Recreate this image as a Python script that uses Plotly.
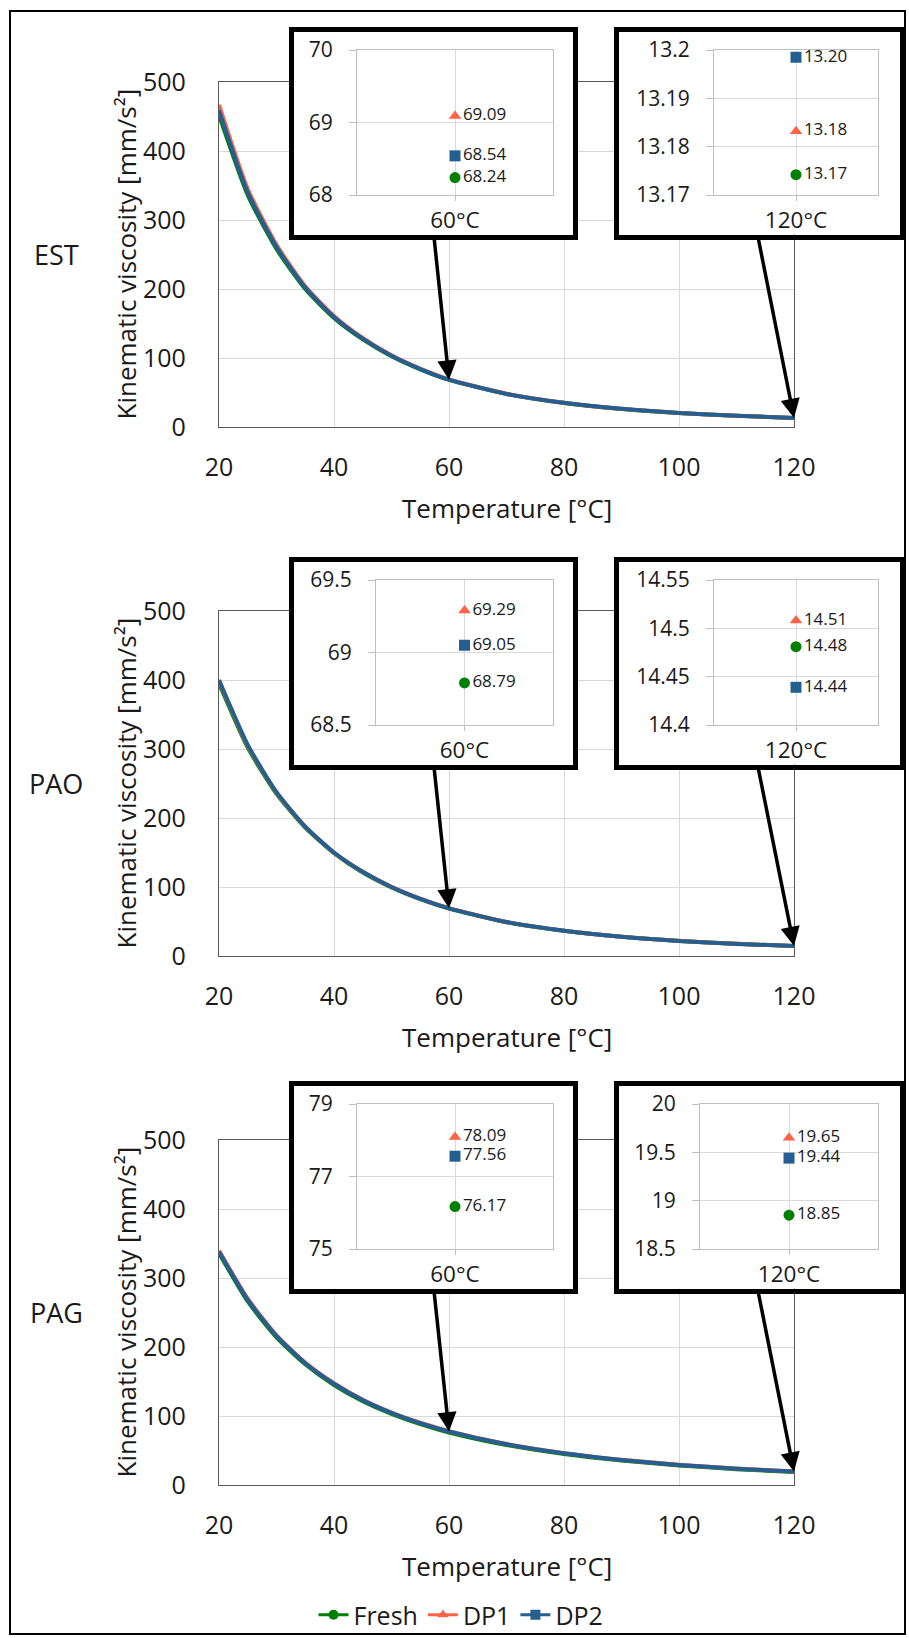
import plotly.graph_objects as go

# ---------------- data ----------------
temps = [20, 25, 30, 35, 40, 45, 50, 55, 60, 70, 80, 90, 100, 110, 120]
series_names = ["Fresh", "DP1", "DP2"]

est_fresh = [452, 336, 258, 200, 158, 127, 102.5, 83.5, 68.24, 47.8, 34.8, 26.2, 20.3, 16.2, 13.17]
est_dp1 = [467, 345, 264, 204, 161, 129, 104, 84.8, 69.09, 48.3, 35.1, 26.4, 20.4, 16.3, 13.18]
est_dp2 = [459, 340, 261, 202, 159.5, 128, 103.2, 84, 68.54, 48.0, 35.0, 26.3, 20.4, 16.3, 13.20]

pao_fresh = [395, 302, 235, 186, 149, 121, 99.5, 82.5, 68.79, 49.0, 36.5, 27.9, 21.9, 17.6, 14.48]
pao_dp1 = [399, 305, 237, 187.5, 150, 122, 100.2, 83.0, 69.29, 49.3, 36.7, 28.0, 22.0, 17.6, 14.51]
pao_dp2 = [400, 306, 237.5, 187.5, 150, 122, 100, 82.8, 69.05, 49.2, 36.6, 27.9, 21.9, 17.5, 14.44]

pag_fresh = [336, 266, 214, 175, 145, 121.5, 103, 88.3, 76.17, 58.0, 45.0, 35.5, 28.4, 23.0, 18.85]
pag_dp1 = [340, 270, 217, 177.5, 147.5, 123.5, 105, 90.2, 78.09, 59.4, 46.2, 36.6, 29.4, 23.9, 19.65]
pag_dp2 = [338, 268.5, 216, 176.5, 146.8, 123, 104.5, 89.7, 77.56, 59.0, 45.9, 36.3, 29.1, 23.7, 19.44]

# inset values, order: Fresh, DP1, DP2
est_60 = [68.24, 69.09, 68.54]
est_120 = [13.1742, 13.1832, 13.1985]
pao_60 = [68.79, 69.29, 69.05]
pao_120 = [14.481, 14.508, 14.439]
pag_60 = [76.17, 78.09, 77.56]
pag_120 = [18.85, 19.65, 19.44]

oils = ["EST", "PAO", "PAG"]
inset_cats = ["60°C", "120°C"]
x_ticks = [20, 40, 60, 80, 100, 120]
y_ticks = [0, 100, 200, 300, 400, 500]
inset_ranges = {
    ("EST", 0): (68, 70, 1), ("EST", 1): (13.17, 13.2, 0.01),
    ("PAO", 0): (68.5, 69.5, 0.5), ("PAO", 1): (14.4, 14.55, 0.05),
    ("PAG", 0): (75, 79, 2), ("PAG", 1): (18.5, 20, 0.5),
}

# ---------------- style ----------------
W, H = 909, 1638
FONT = "Open Sans"
TXT = "#1a1a1a"
colors = ["#008000", "#ff6347", "#255e91"]
symbols = ["circle", "triangle-up", "square"]
GRID = "#d9d9d9"


def fx(px):
    return px / W


def fy(py):
    return 1 - py / H


curves = {"EST": [est_fresh, est_dp1, est_dp2],
          "PAO": [pao_fresh, pao_dp1, pao_dp2],
          "PAG": [pag_fresh, pag_dp1, pag_dp2]}
insets = {"EST": [est_60, est_120], "PAO": [pao_60, pao_120], "PAG": [pag_60, pag_120]}

main_off = [0, 529, 1058]
inset_off = [0, 530, 1054]
plot_left = {"EST": (357, 714), "PAO": (376, 714), "PAG": (357, 700)}
plot_right = (553, 878)

fig = go.Figure()
layout = {}
annotations = []


def axname(i, a):
    return f"{a}axis" if i == 1 else f"{a}axis{i}"


def ref(i, a):
    return a if i == 1 else f"{a}{i}"


def txt(text, x, y, size=26, angle=0):
    return dict(text=text, x=fx(x), y=fy(y), xref="paper", yref="paper",
                xanchor="center", yanchor="middle", textangle=angle, showarrow=False,
                font=dict(size=size, color=TXT, family=FONT))


# main plots (axes 1-3)
for k, oil in enumerate(oils):
    i = k + 1
    o = main_off[k]
    y0, y1 = 427 + o, 82 + o
    layout[axname(i, "x")] = dict(
        domain=[fx(219), fx(794)], range=[20, 120], tickvals=x_ticks,
        showgrid=True, gridcolor=GRID, gridwidth=1, zeroline=False,
        showline=True, linecolor="#595959", linewidth=1.3, mirror=True,
        ticks="", tickfont=dict(size=25, color=TXT, family=FONT), automargin=False,
        ticklabelstandoff=18, anchor=ref(i, "y"), fixedrange=True)
    layout[axname(i, "y")] = dict(
        domain=[fy(y0), fy(y1)], range=[0, 500], tickvals=y_ticks,
        showgrid=True, gridcolor=GRID, gridwidth=1, zeroline=False,
        showline=True, linecolor="#595959", linewidth=1.3, mirror=True,
        ticks="", tickfont=dict(size=25, color=TXT, family=FONT), automargin=False,
        ticklabelstandoff=27, anchor=ref(i, "x"), fixedrange=True)
    for s, name in enumerate(series_names):
        fig.add_trace(go.Scatter(
            x=temps, y=curves[oil][s], mode="lines", name=name,
            line=dict(color=colors[s], width=4, shape="spline", smoothing=0.6),
            xaxis=ref(i, "x"), yaxis=ref(i, "y"), showlegend=False, hoverinfo="skip"))
    annotations.append(txt("Kinematic viscosity [mm/s²]", 125, 254.5 + o, angle=-90))
    annotations.append(txt("Temperature [°C]", 506.5, 508 + o))
    annotations.append(txt(oil, 56, 254 + o, size=27))

# inset frames (axes 4-9): white panels with thick black border
box_x = [(294, 573), (618.5, 899.5)]
idx = 4
for k, oil in enumerate(oils):
    o = inset_off[k]
    for j in range(2):
        bx0, bx1 = box_x[j]
        layout[axname(idx, "x")] = dict(
            domain=[fx(bx0), fx(bx1)], range=[0, 1], showgrid=False, zeroline=False,
            showticklabels=False, ticks="", showline=True, linecolor="black",
            linewidth=4.5, mirror=True, anchor=ref(idx, "y"), fixedrange=True,
            automargin=False)
        layout[axname(idx, "y")] = dict(
            domain=[fy(234.5 + o), fy(31.5 + o)], range=[0, 1], showgrid=False, zeroline=False,
            showticklabels=False, ticks="", showline=True, linecolor="black",
            linewidth=4.5, mirror=True, anchor=ref(idx, "x"), fixedrange=True,
            automargin=False)
        fig.add_trace(go.Scatter(x=[None], y=[None], mode="markers", showlegend=False,
                                 xaxis=ref(idx, "x"), yaxis=ref(idx, "y"), hoverinfo="skip"))
        idx += 1

# inset plots (axes 10-15)
idx = 10
for k, oil in enumerate(oils):
    o = inset_off[k]
    for j in range(2):
        px0, px1 = plot_left[oil][j], plot_right[j]
        lo, hi, dt = inset_ranges[(oil, j)]
        cat = inset_cats[j]
        layout[axname(idx, "x")] = dict(
            domain=[fx(px0), fx(px1)], type="category", range=[-0.5, 0.5],
            showgrid=True, gridcolor=GRID, zeroline=False, showline=True,
            linecolor="#bfbfbf", linewidth=1, mirror=True, ticks="outside",
            ticklen=5, tickcolor="#bfbfbf", automargin=False,
            tickfont=dict(size=22.5, color=TXT, family=FONT),
            ticklabelstandoff=0, anchor=ref(idx, "y"), fixedrange=True)
        layout[axname(idx, "y")] = dict(
            domain=[fy(195 + o), fy(50 + o)], range=[lo, hi], tick0=lo, dtick=dt,
            showgrid=True, gridcolor=GRID, zeroline=False, showline=True,
            linecolor="#bfbfbf", linewidth=1, mirror=True, ticks="outside",
            ticklen=7, tickcolor="#bfbfbf", automargin=False,
            tickfont=dict(size=21, color=TXT, family=FONT),
            ticklabelstandoff=12, anchor=ref(idx, "x"), fixedrange=True)
        vals = insets[oil][j]
        for s, name in enumerate(series_names):
            fig.add_trace(go.Scatter(
                x=[cat], y=[vals[s]], mode="markers+text", name=name,
                text=[f"{vals[s]:.2f}"], textposition="middle right",
                textfont=dict(size=17, color=TXT, family=FONT),
                marker=dict(symbol=symbols[s], size=11, color=colors[s]),
                xaxis=ref(idx, "x"), yaxis=ref(idx, "y"), showlegend=False,
                cliponaxis=False, hoverinfo="skip"))
        idx += 1

# arrows from inset frames to the curves
scale = 345 / 500
for k, oil in enumerate(oils):
    i = k + 1
    o = main_off[k]
    yo = inset_off[k]
    tail_y = 237 + yo
    for T_pt, tail_x, s_idx in [(60, 434, 8), (120, 758, 14)]:
        yv = curves[oil][2][s_idx]
        tip_px_x = 219 + (T_pt - 20) * 575 / 100
        tip_px_y = 427 + o - yv * scale
        annotations.append(dict(
            x=T_pt, y=yv, xref=ref(i, "x"), yref=ref(i, "y"), text="",
            showarrow=True, arrowhead=2, arrowsize=1.1, arrowwidth=3.5,
            arrowcolor="black", standoff=0, startstandoff=0,
            ax=tail_x - tip_px_x, ay=tail_y - tip_px_y))

# legend-only entries
for s, name in enumerate(series_names):
    fig.add_trace(go.Scatter(
        x=[None], y=[None], mode="lines+markers", name=name,
        line=dict(color=colors[s], width=3),
        marker=dict(symbol=symbols[s], size=10, color=colors[s]),
        xaxis="x", yaxis="y", showlegend=True))

fig.update_layout(
    width=W, height=H, margin=dict(l=0, r=0, t=0, b=0, autoexpand=False),
    paper_bgcolor="white", plot_bgcolor="white",
    font=dict(family=FONT, color=TXT),
    showlegend=True,
    legend=dict(orientation="h", x=fx(461), y=fy(1615), xanchor="center", yanchor="middle",
                font=dict(size=25, color=TXT, family=FONT), itemwidth=30,
                bgcolor="rgba(0,0,0,0)"),
    annotations=annotations,
    shapes=[dict(type="rect", xref="paper", yref="paper", x0=fx(10), x1=fx(905),
                 y0=fy(1634), y1=fy(11), line=dict(color="black", width=2), layer="above")],
    **layout,
)

fig.write_html("out.html", config={"displayModeBar": False},
               post_script="document.body.style.margin='0px';")
